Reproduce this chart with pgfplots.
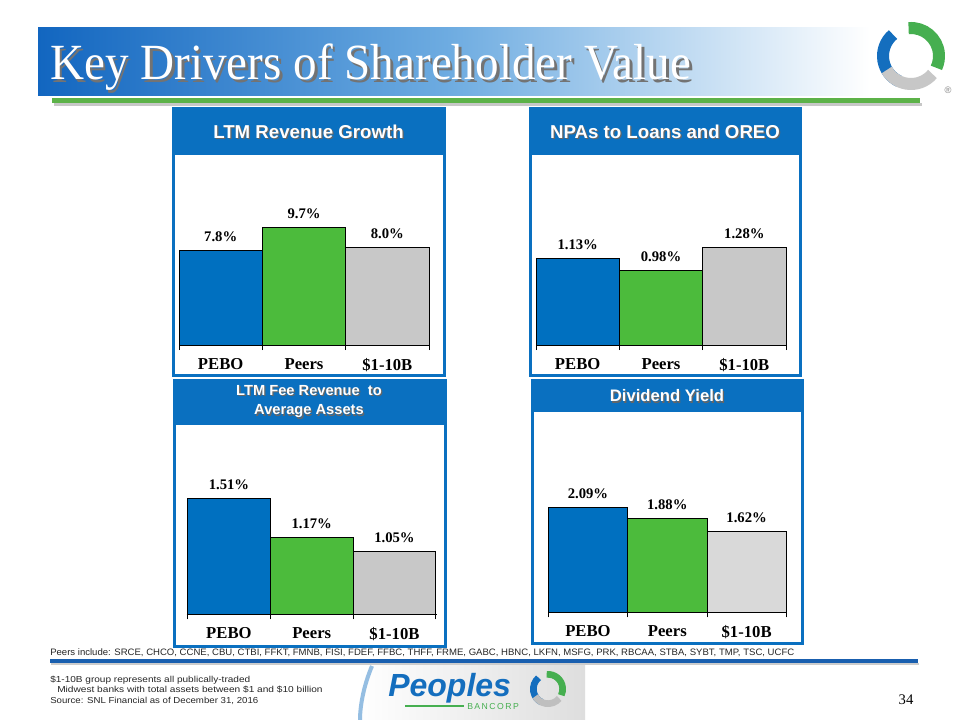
\documentclass[border=0pt]{standalone}
\usepackage{fontspec}
\setmainfont{Liberation Serif}
\newfontfamily\arial{Liberation Sans}
\usepackage{graphicx}
\usepackage{pgfplots}
\pgfplotsset{compat=1.18}
\usetikzlibrary{calc}

\definecolor{pblue}{RGB}{0,112,192}
\definecolor{pgreen}{RGB}{76,187,60}
\definecolor{pgray}{RGB}{200,200,200}
\definecolor{pgrayl}{RGB}{217,217,217}
\definecolor{hblue}{RGB}{10,112,192}
\definecolor{bannerA}{RGB}{18,102,192}
\definecolor{bannerB}{RGB}{110,172,225}
\definecolor{lgreen}{RGB}{92,178,72}
\definecolor{fblue}{RGB}{25,95,175}
\definecolor{logogreen}{RGB}{70,175,80}
\definecolor{logoblue}{RGB}{20,110,190}

\pgfplotsset{
 panel/.style={
  scale only axis, ybar, bar shift=0pt, bar width=1,
  xmin=-0.5, xmax=2.5, ymin=0,
  axis y line=none, axis x line*=bottom,
  axis line style={black, line width=0.6pt, -},
  xtick={0,1,2}, xticklabels={PEBO,Peers,\$1-10B},
  major tick length=0pt,
  extra x ticks={-0.5,0.5,1.5,2.5}, extra x tick labels={},
  extra x tick style={major tick length=3.75pt, tick align=outside,
     tick style={black, line width=0.6pt}},
  xticklabel style={font=\fontsize{12.5}{12.5}\selectfont\bfseries, yshift=-6.5pt},
  /pgf/number format/assume math mode=true,
  every node near coord/.append style={font=\fontsize{11}{11}\selectfont\bfseries, black, yshift=3pt},
  clip=false,
 },
}

\newcommand{\htext}[4]{%
  \node[font=\arial\bfseries\fontsize{#3}{#3}\selectfont, text=black!60] at ($(#1,#2)+(1.3,1.3)$) {#4};
  \node[font=\arial\bfseries\fontsize{#3}{#3}\selectfont, text=white] at (#1,#2) {#4};}

\begin{document}
\begin{tikzpicture}[x=0.75pt,y=-0.75pt]
\path[use as bounding box, fill=white] (0,0) rectangle (960,720);

% title banner
\shade[left color=bannerA, right color=bannerB] (38,28) rectangle (450,96);
\shade[left color=bannerB, right color=white] (449.5,28) rectangle (870,96);
\node[anchor=base west, inner sep=0, text=black!55, font=\fontsize{38}{38}\selectfont] at (52.5,82.5) {\scalebox{0.93}[1]{Key Drivers of Shareholder Value}};
\node[anchor=base west, inner sep=0, text=white, font=\fontsize{38}{38}\selectfont] at (50,80) {\scalebox{0.93}[1]{Key Drivers of Shareholder Value}};
\fill[black!22] (54,103) rectangle (922,106);
\fill[lgreen] (52,98) rectangle (920,103.5);

% top-right logo
\begin{scope}[shift={(911,56)}]
 \draw[logoblue, line width=9pt] (130:21pt) arc[start angle=130, end angle=245, radius=21pt];
 \draw[logogreen, line width=9pt] (95:21pt) arc[start angle=95, end angle=-25, radius=21pt];
 \draw[black!22, line width=9pt] (-40:21pt) arc[start angle=-40, end angle=-150, radius=21pt];
 \draw[white, line width=1.5pt] (10:12pt) arc[start angle=10, end angle=200, radius=12pt];
\end{scope}
\node[font=\arial\fontsize{7}{7}\selectfont, text=black!50] at (948,90) {®};

% panels
\draw[hblue, line width=2.25pt, fill=white] (173,109) rectangle (444,375);
\fill[hblue] (173,109) rectangle (444,155);
\draw[hblue, line width=2.25pt, fill=white] (530,109) rectangle (800,375);
\fill[hblue] (530,109) rectangle (800,155);
\draw[hblue, line width=2.25pt, fill=white] (174,380) rectangle (445,646);
\fill[hblue] (174,380) rectangle (445,425);
\draw[hblue, line width=2.25pt, fill=white] (532,380) rectangle (802,643);
\fill[hblue] (532,380) rectangle (802,412);

\htext{308.5}{131.5}{14}{LTM Revenue Growth}
\htext{665}{131.5}{14}{NPAs to Loans and OREO}
\htext{309}{390.5}{11}{LTM Fee Revenue\ \ to}
\htext{309}{411.5}{11}{Average Assets}
\htext{667}{396}{12.5}{Dividend Yield}

% Panel 1
\begin{axis}[panel, at={(134.25pt,-258.75pt)}, anchor=south west, width=187.5pt, height=136.7pt, ymax=15,
  nodes near coords={\pgfmathprintnumber[fixed,fixed zerofill,precision=1]{\pgfplotspointmeta}\%}]
\addplot[fill=pblue, draw=black, line width=0.6pt] coordinates {(0,7.8)};
\addplot[fill=pgreen, draw=black, line width=0.6pt] coordinates {(1,9.7)};
\addplot[fill=pgray, draw=black, line width=0.6pt] coordinates {(2,8.0)};
\end{axis}

% Panel 2
\begin{axis}[panel, at={(402pt,-258.75pt)}, anchor=south west, width=187.5pt, height=137.5pt, ymax=2.4,
  nodes near coords={\pgfmathprintnumber[fixed,fixed zerofill,precision=2]{\pgfplotspointmeta}\%}]
\addplot[fill=pblue, draw=black, line width=0.6pt] coordinates {(0,1.13)};
\addplot[fill=pgreen, draw=black, line width=0.6pt] coordinates {(1,0.98)};
\addplot[fill=pgray, draw=black, line width=0.6pt] coordinates {(2,1.28)};
\end{axis}

% Panel 3
\begin{axis}[panel, at={(140.025pt,-460.725pt)}, anchor=south west, width=187.5pt, height=137.6pt, ymin=0.5, ymax=2.1,
  xmin=-0.51, xmax=2.51, clip=true,
  nodes near coords={\pgfmathprintnumber[fixed,fixed zerofill,precision=2]{\pgfplotspointmeta}\%}]
\addplot[fill=pblue, draw=black, line width=0.6pt] coordinates {(0,1.51)};
\addplot[fill=pgreen, draw=black, line width=0.6pt] coordinates {(1,1.17)};
\addplot[fill=pgray, draw=black, line width=0.6pt] coordinates {(2,1.05)};
\end{axis}

% Panel 4
\begin{axis}[panel, at={(411.225pt,-459.225pt)}, anchor=south west, width=178.5pt, height=135pt, ymax=3.6,
  nodes near coords={\pgfmathprintnumber[fixed,fixed zerofill,precision=2]{\pgfplotspointmeta}\%}]
\addplot[fill=pblue, draw=black, line width=0.6pt] coordinates {(0,2.09)};
\addplot[fill=pgreen, draw=black, line width=0.6pt] coordinates {(1,1.88)};
\addplot[fill=pgrayl, draw=black, line width=0.6pt] coordinates {(2,1.62)};
\end{axis}

% footer
\node[anchor=base west, inner sep=0, font=\arial\fontsize{7}{7}\selectfont, text=black!85] at (50,655.5)
 {\resizebox{558pt}{\height}{Peers include: SRCE, CHCO, CCNE, CBU, CTBI, FFKT, FMNB, FISI, FDEF, FFBC, THFF, FRME, GABC, HBNC, LKFN, MSFG, PRK, RBCAA, STBA, SYBT, TMP, TSC, UCFC}};
\fill[black!20] (51,663) rectangle (919,665);
\fill[fblue] (50,658.5) rectangle (918,663);

\node[anchor=base west, inner sep=0, font=\arial\fontsize{6.5}{6.5}\selectfont, text=black!85] at (50,682)
 {\resizebox{150pt}{\height}{\$1-10B group represents all publically-traded}};
\node[anchor=base west, inner sep=0, font=\arial\fontsize{6.5}{6.5}\selectfont, text=black!85] at (57,692)
 {\resizebox{199pt}{\height}{Midwest banks with total assets between \$1 and \$10 billion}};
\node[anchor=base west, inner sep=0, font=\arial\fontsize{6.5}{6.5}\selectfont, text=black!85] at (50,703)
 {\resizebox{156pt}{\height}{Source: SNL Financial as of December 31, 2016}};

% bottom logo
\shade[left color=white, right color=black!13] (357,665) rectangle (585,720);
\draw[logoblue!45, line width=3pt] (372,666) .. controls (364,685) and (360,705) .. (360,720);
\node[anchor=base west, inner sep=0, text=logoblue, font=\arial\bfseries\itshape\fontsize{24}{24}\selectfont] at (388,696) {Peoples};
\draw[logogreen, line width=1.1pt] (405,706) -- (464,706);
\node[anchor=west, inner sep=0, text=logogreen, font=\arial\fontsize{6.5}{6.5}\selectfont] at (467,706.5) {B\,A\,N\,C\,O\,R\,P};
\begin{scope}[shift={(548,689)}]
 \draw[logoblue, line width=5pt] (130:11pt) arc[start angle=130, end angle=245, radius=11pt];
 \draw[logogreen, line width=5pt] (95:11pt) arc[start angle=95, end angle=-25, radius=11pt];
 \draw[black!25, line width=5pt] (-40:11pt) arc[start angle=-40, end angle=-150, radius=11pt];
\end{scope}

\node[anchor=base, inner sep=0, font=\fontsize{11}{11}\selectfont] at (906,704) {34};
\end{tikzpicture}
\end{document}
